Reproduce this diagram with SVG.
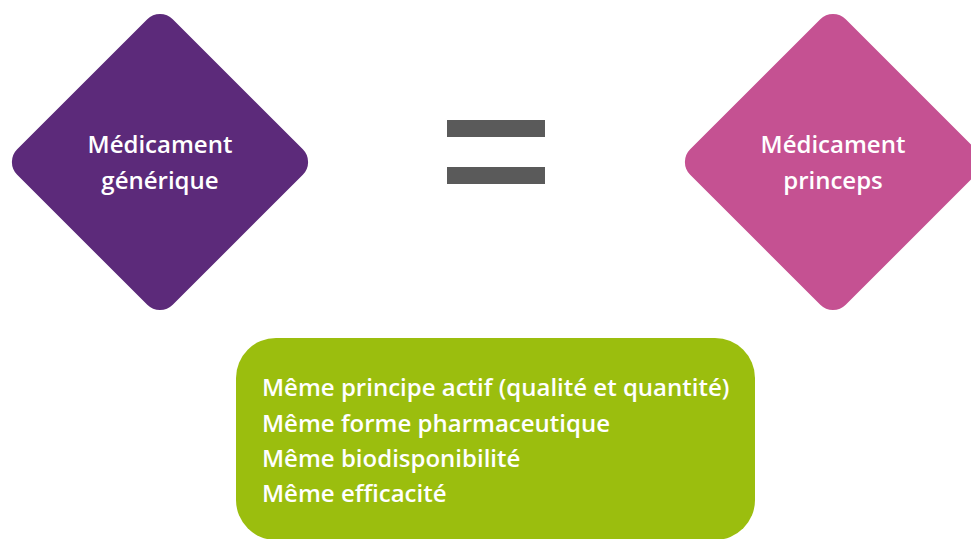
<svg xmlns="http://www.w3.org/2000/svg" width="971" height="539" viewBox="0 0 971 539">
<style>
.t{font-family:"Open Sans","Liberation Sans",sans-serif;font-weight:600;fill:#ffffff;font-size:24px}
.c{text-anchor:middle}
</style>
<rect width="971" height="539" fill="#ffffff"/>
<g id="generique">
<rect x="50" y="52" width="220" height="220" rx="18" fill="#5C2A7A" transform="rotate(45 160 162)"/>
<text class="t c" x="160" y="153">Médicament</text>
<text class="t c" x="160" y="189">générique</text>
</g>
<g id="egal">
<rect x="447" y="120" width="98" height="17" fill="#5A5A5A"/>
<rect x="447" y="167" width="98" height="17" fill="#5A5A5A"/>
</g>
<g id="princeps">
<rect x="723" y="52" width="220" height="220" rx="18" fill="#C55192" transform="rotate(45 833 162)"/>
<text class="t c" x="833" y="153">Médicament</text>
<text class="t c" x="833" y="189">princeps</text>
</g>
<g id="criteres">
<rect x="236" y="338" width="519" height="202" rx="40" fill="#9BBE0E"/>
<text class="t" x="262" y="396">Même principe actif (qualité et quantité)</text>
<text class="t" x="262" y="432">Même forme pharmaceutique</text>
<text class="t" x="262" y="467">Même biodisponibilité</text>
<text class="t" x="262" y="502">Même efficacité</text>
</g>
<g id="connectors"/>
</svg>
